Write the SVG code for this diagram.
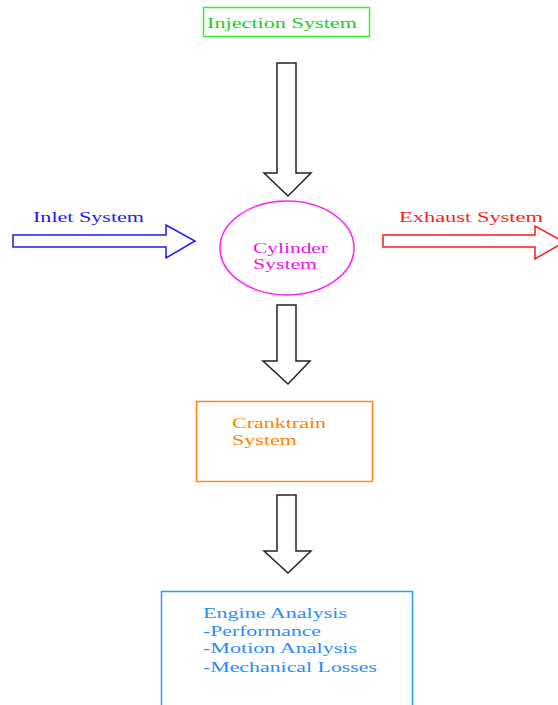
<svg xmlns="http://www.w3.org/2000/svg" width="558" height="705" viewBox="0 0 558 705">
<style>
text{font-family:"Liberation Serif","Times New Roman",serif;font-size:15px}
.arr{fill:#fff;stroke:#222;stroke-width:1.5}
</style>
<rect width="558" height="705" fill="#fff"/>
<g id="injection">
<rect x="203.5" y="7.5" width="166" height="29" fill="#fff" stroke="#33ee33" stroke-width="1.5"/>
<text x="207" y="28" fill="#22cc22" textLength="150" lengthAdjust="spacingAndGlyphs">Injection System</text>
</g>
<g id="inlet">
<text x="33" y="222" fill="#1a1aff" textLength="111" lengthAdjust="spacingAndGlyphs">Inlet System</text>
</g>
<g id="cylinder">
<ellipse cx="287" cy="248" rx="67" ry="47" fill="#fff" stroke="#ff22ff" stroke-width="1.5"/>
<text x="253" y="253" fill="#ee11ee" textLength="75" lengthAdjust="spacingAndGlyphs">Cylinder</text>
<text x="253" y="269" fill="#ee11ee" textLength="64" lengthAdjust="spacingAndGlyphs">System</text>
</g>
<g id="exhaust">
<text x="399" y="222" fill="#ff1a1a" textLength="144" lengthAdjust="spacingAndGlyphs">Exhaust System</text>
</g>
<g id="cranktrain">
<rect x="196.5" y="401.5" width="176" height="80" fill="#fff" stroke="#ff8c1a" stroke-width="1.5"/>
<text x="232" y="428" fill="#ff8000" textLength="94" lengthAdjust="spacingAndGlyphs">Cranktrain</text>
<text x="232" y="445" fill="#ff8000" textLength="65" lengthAdjust="spacingAndGlyphs">System</text>
</g>
<g id="engine">
<rect x="161.5" y="591.5" width="251" height="130" fill="#fff" stroke="#3399ff" stroke-width="1.5"/>
<text x="203" y="618" fill="#2b8cff" textLength="144" lengthAdjust="spacingAndGlyphs">Engine Analysis</text>
<text x="203" y="636" fill="#2b8cff" textLength="118" lengthAdjust="spacingAndGlyphs">-Performance</text>
<text x="203" y="653" fill="#2b8cff" textLength="154" lengthAdjust="spacingAndGlyphs">-Motion Analysis</text>
<text x="203" y="672" fill="#2b8cff" textLength="174" lengthAdjust="spacingAndGlyphs">-Mechanical Losses</text>
</g>
<g id="connectors">
<polygon class="arr" points="277,63 296,63 296,173 311,173 288,196 264,173 277,173"/>
<polygon class="arr" points="277,305 296,305 296,361 310,361 288,384 263,361 277,361"/>
<polygon class="arr" points="277,495 296,495 296,551 311,551 288,573 264,551 277,551"/>
<polygon class="arr" style="stroke:#1a1aff" points="13,235 166,235 166,225 195,241 166,258 166,247 13,247"/>
<polygon class="arr" style="stroke:#ff1a1a" points="383,235 535,235 535,226 564,242 535,259 535,247 383,247"/>
</g>
</svg>
